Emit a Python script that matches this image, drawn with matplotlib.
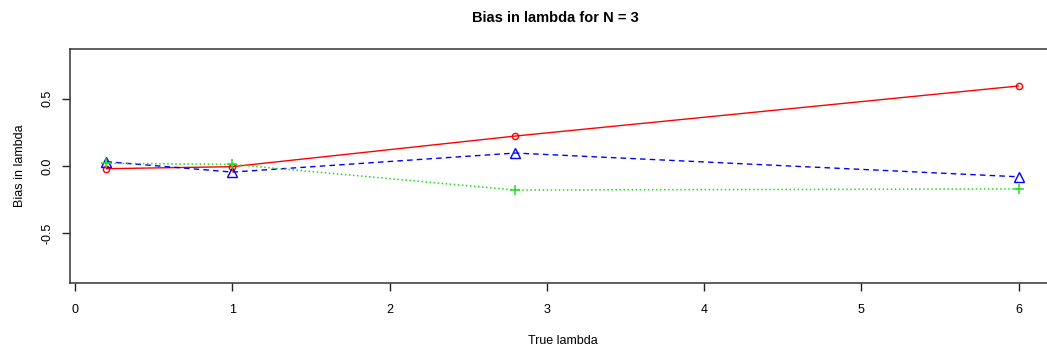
import matplotlib
matplotlib.use("Agg")
import matplotlib.pyplot as plt

plt.rcParams['font.family'] = ['Liberation Sans', 'DejaVu Sans']

true_lambda = [0.2, 1.0, 2.8, 6.0]
bias_red = [-0.02, -0.005, 0.222, 0.593]
bias_blue = [0.032, -0.045, 0.096, -0.08]
bias_green = [0.02, 0.012, -0.178, -0.17]

fig = plt.figure(figsize=(10.47, 3.51), dpi=100)
ax = fig.add_axes([70 / 1047, 68 / 351, 985 / 1047, 234 / 351])

ax.plot(true_lambda, bias_red, '-', color='red', lw=1, marker='o', ms=4.5,
        mfc='none', mec='red', mew=1)
ax.plot(true_lambda, bias_blue, '--', color='blue', lw=1, marker='^', ms=7,
        mfc='none', mec='blue', mew=1, dashes=(4, 3))
ax.plot(true_lambda, bias_green, ':', color='#22dd22', lw=1.1, marker='+', ms=7.5,
        mec='#22dd22', mew=1.1)

ax.set_xlim(-0.032, 6.232)
ax.set_ylim(-0.867, 0.867)
ax.set_xticks(range(7))
ax.set_yticks([-0.5, 0.0, 0.5])
ax.set_yticklabels(['-0.5', '0.0', '0.5'], rotation=90, va='center')
ax.tick_params(direction='out', length=6, width=1, labelsize=9, color='#222222')
ax.tick_params(axis='x', pad=9)
ax.tick_params(axis='y', pad=6)
for s in ax.spines.values():
    s.set_color('#333333')
    s.set_linewidth(1.1)

ax.set_xlabel('True lambda', fontsize=9, labelpad=14)
ax.set_ylabel('Bias in lambda', fontsize=9, labelpad=11)
fig.text(555 / 1047, 1 - 18 / 351, 'Bias in lambda for N = 3', ha='center', va='center',
         fontsize=10.5, fontweight='bold')

fig.savefig('out.png', dpi=100)
